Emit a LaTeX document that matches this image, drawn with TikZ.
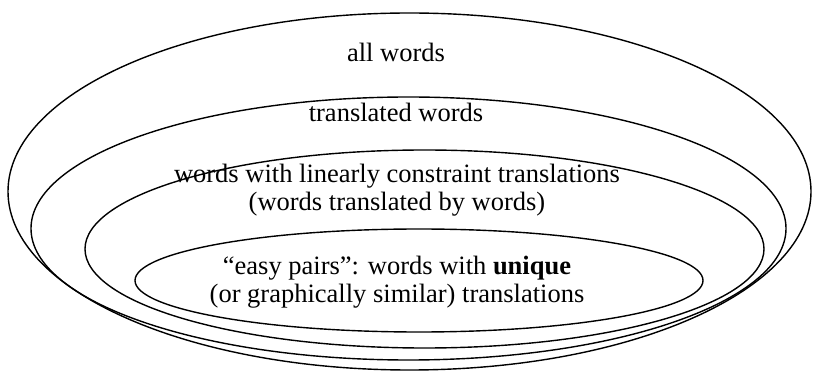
\documentclass[tikz,border=0pt]{standalone}
\usepackage{fontspec}
\setmainfont{Liberation Serif}
\tikzset{
  setline/.style={draw=black, line width=1.4pt},
  setlabel/.style={font=\fontsize{26.5}{28}\selectfont, align=center, inner sep=0pt, anchor=base}
}
\begin{document}
\begin{tikzpicture}[x=1pt,y=1pt]
\useasboundingbox (0,0) rectangle (813,372);
\draw[setline] (409.5,180.5) ellipse [x radius=401.5, y radius=178.5];
\draw[setline] (408.5,143.5) ellipse [x radius=377.5, y radius=131.5];
\draw[setline] (424.5,123) ellipse [x radius=339.5, y radius=99];
\draw[setline] (419,91.5) ellipse [x radius=284, y radius=51.5];
\node[setlabel] (all) at (396,310) {all words};
\node[setlabel] (trans) at (396,250) {translated words};
\node[setlabel] (lin1) at (397,189) {words with linearly constraint translations};
\node[setlabel] (lin2) at (397,161) {(words translated by words)};
\node[setlabel] (easy1) at (397,97) {“easy pairs”: words with \textbf{unique}};
\node[setlabel] (easy2) at (397,69) {(or graphically similar) translations};
\end{tikzpicture}
\end{document}
